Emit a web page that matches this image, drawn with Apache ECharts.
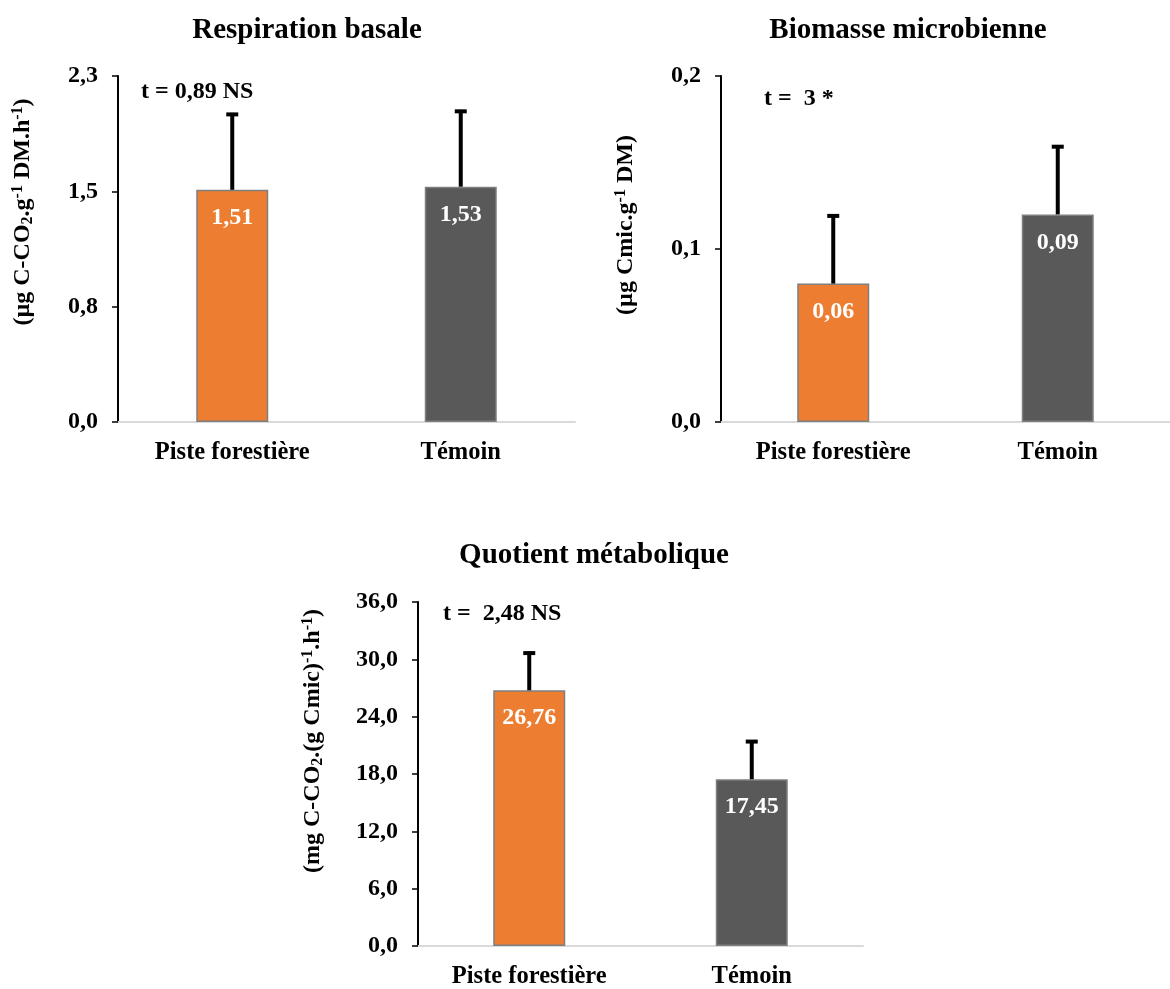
<!DOCTYPE html>
<html><head><meta charset="utf-8">
<script src="https://cdn.jsdelivr.net/npm/echarts@6/dist/echarts.min.js"></script>
<style>html,body{margin:0;padding:0;background:#fff}#c{width:1170px;height:989px}</style>
</head><body><div id="c"></div>
<script>
const categories = ['Piste forestière', 'Témoin'];

const respValues = [1.51, 1.53];
const respErrors = [0.50, 0.50];
const respLabels = ['1,51', '1,53'];
const respTicks = ['0,0', '0,8', '1,5', '2,3'];

const bioValues = [0.08, 0.12];
const bioErrors = [0.04, 0.04];
const bioLabels = ['0,06', '0,09'];
const bioTicks = ['0,0', '0,1', '0,2'];

const qmValues = [26.76, 17.45];
const qmErrors = [4.05, 4.1];
const qmLabels = ['26,76', '17,45'];
const qmTicks = ['0,0', '6,0', '12,0', '18,0', '24,0', '30,0', '36,0'];

const barColors = ['#ED7D31', '#595959'];
const FONT = '"Liberation Serif", "Times New Roman", serif';

const grids = [
  {left: 118, top: 76, width: 457, height: 346},
  {left: 721, top: 76, width: 457, height: 346},
  {left: 418, top: 602, width: 445, height: 346}
];
const yCfg = [
  {max: 2.25, interval: 0.75, ticks: respTicks},
  {max: 0.2, interval: 0.1, ticks: bioTicks},
  {max: 36, interval: 6, ticks: qmTicks}
];
const sets = [
  {v: respValues, e: respErrors, l: respLabels},
  {v: bioValues, e: bioErrors, l: bioLabels},
  {v: qmValues, e: qmErrors, l: qmLabels}
];

const xAxis = grids.map((g, i) => ({
  type: 'category', gridIndex: i, data: categories,
  axisLine: {lineStyle: {color: '#D9D9D9', width: 2}},
  axisTick: {show: false},
  axisLabel: {color: '#000', fontFamily: FONT, fontWeight: 'bold', fontSize: 24.5, margin: 18}
}));
const yAxis = yCfg.map((c, i) => ({
  type: 'value', gridIndex: i, min: 0, max: c.max, interval: c.interval,
  splitLine: {show: false},
  axisLine: {show: true, lineStyle: {color: '#000', width: 2}},
  axisTick: {show: true, length: 6, lineStyle: {color: '#000', width: 1.5}},
  axisLabel: {color: '#000', fontFamily: FONT, fontWeight: 'bold', fontSize: 24, margin: 20,
    formatter: (val, idx) => c.ticks[idx]}
}));

const series = [];
sets.forEach((s, i) => {
  series.push({
    type: 'bar', xAxisIndex: i, yAxisIndex: i, barWidth: 72,
    data: s.v.map((v, k) => ({value: v, itemStyle: {color: barColors[k]}})),
    itemStyle: {borderColor: '#7F7F7F', borderWidth: 1.5},
    label: {show: true, position: 'insideTop', distance: 16, color: '#fff',
      fontFamily: FONT, fontWeight: 'bold', fontSize: 24,
      formatter: p => s.l[p.dataIndex]},
    z: 2
  });
  series.push({
    type: 'custom', xAxisIndex: i, yAxisIndex: i,
    data: s.v.map((v, k) => [k, v, v + s.e[k]]),
    renderItem: (params, api) => {
      const base = api.coord([api.value(0), api.value(1)]);
      const top = api.coord([api.value(0), api.value(2)]);
      return {type: 'group', children: [
        {type: 'line', shape: {x1: base[0], y1: base[1], x2: top[0], y2: top[1]},
          style: {stroke: '#000', lineWidth: 4}},
        {type: 'line', shape: {x1: top[0] - 6, y1: top[1] + 1.5, x2: top[0] + 6, y2: top[1] + 1.5},
          style: {stroke: '#000', lineWidth: 4}}
      ]};
    },
    z: 3
  });
});

const titleStyle = {fontFamily: FONT, fontWeight: 'bold', fontSize: 29, color: '#000'};
const annStyle = {fontFamily: FONT, fontWeight: 'bold', fontSize: 24, color: '#000'};
const title = [
  {text: 'Respiration basale', left: 302, top: 11, textAlign: 'center', textStyle: titleStyle},
  {text: 'Biomasse microbienne', left: 903, top: 11, textAlign: 'center', textStyle: titleStyle},
  {text: 'Quotient métabolique', left: 589, top: 536, textAlign: 'center', textStyle: titleStyle},
  {text: 't = 0,89 NS', left: 136, top: 75, textStyle: annStyle},
  {text: 't =  3 *', left: 759, top: 82, textStyle: annStyle},
  {text: 't =  2,48 NS', left: 438, top: 597, textStyle: annStyle}
];

const rich = {
  n: {fontFamily: FONT, fontWeight: 'bold', fontSize: 24, color: '#000'},
  sub: {fontFamily: FONT, fontWeight: 'bold', fontSize: 16, color: '#000', padding: [10, 0, 0, 0]},
  sup: {fontFamily: FONT, fontWeight: 'bold', fontSize: 16, color: '#000', padding: [0, 0, 10, 0]}
};
function axisName(x, y, txt) {
  return {type: 'text', x: x, y: y, rotation: Math.PI / 2,
    style: {text: txt, rich: rich, align: 'center', verticalAlign: 'middle',
      font: 'bold 24px ' + FONT, fill: '#000'}};
}
const graphic = [
  axisName(23, 212, '{n|(µg C-CO}{sub|2}{n|.g}{sup|-1}{n| DM.h}{sup|-1}{n|)}'),
  axisName(626, 225, '{n|(µg Cmic.g}{sup|-1}{n| DM)}'),
  axisName(313, 741, '{n|(mg C-CO}{sub|2}{n|.(g Cmic)}{sup|-1}{n|.h}{sup|-1}{n|)}')
];

const chart = echarts.init(document.getElementById('c'), null, {renderer: 'canvas'});
chart.setOption({
  animation: false, backgroundColor: '#fff',
  title, grid: grids, xAxis, yAxis, series, graphic
});
</script></body></html>
